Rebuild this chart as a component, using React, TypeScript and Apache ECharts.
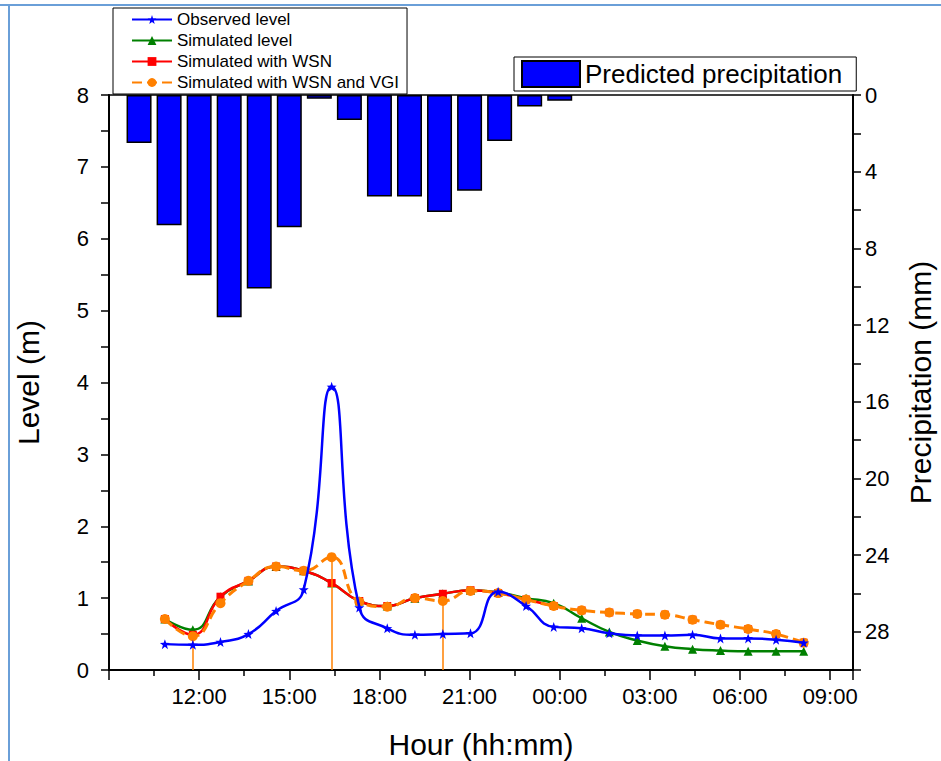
import React, { useEffect, useRef } from "react";
import * as echarts from "echarts";

// ---- data ----
const sampleHours = [10.86, 11.79, 12.71, 13.64, 14.56, 15.48, 16.41, 17.33, 18.26, 19.18, 20.11, 21.03, 21.95, 22.88, 23.80, 24.73, 25.65, 26.58, 27.50, 28.42, 29.35, 30.27, 31.20, 32.12];
const observedLevel = [0.36, 0.35, 0.39, 0.50, 0.82, 1.12, 3.94, 0.87, 0.58, 0.49, 0.50, 0.51, 1.09, 0.89, 0.60, 0.58, 0.51, 0.48, 0.48, 0.49, 0.44, 0.44, 0.42, 0.38];
const simulatedLevel = [0.71, 0.56, 1.02, 1.24, 1.44, 1.38, 1.21, 0.96, 0.89, 1.00, 1.06, 1.11, 1.08, 1.00, 0.93, 0.72, 0.53, 0.41, 0.33, 0.29, 0.27, 0.26, 0.26, 0.26];
const simulatedWSN = [0.71, 0.49, 1.02, 1.24, 1.44, 1.38, 1.21, 0.96, 0.89, 1.00, 1.06, 1.11, 1.07, 0.98, 0.89, 0.83, 0.80, 0.78, 0.77, 0.70, 0.63, 0.57, 0.50, 0.38];
const simulatedWSNVGI = [0.71, 0.47, 0.93, 1.24, 1.44, 1.38, 1.57, 0.95, 0.88, 1.00, 0.96, 1.10, 1.07, 0.98, 0.89, 0.83, 0.80, 0.78, 0.77, 0.70, 0.63, 0.57, 0.50, 0.38];
const wsnLineEnd = 14; // WSN line drawn up to this index, markers only afterwards
const dropIndices = [1, 6, 10];

const precipHours = [10, 11, 12, 13, 14, 15, 16, 17, 18, 19, 20, 21, 22, 23, 24];
const precipitation = [2.5, 6.8, 9.4, 11.6, 10.1, 6.9, 0.2, 1.3, 5.3, 5.3, 6.1, 5.0, 2.4, 0.6, 0.3];

const FONT = "Liberation Sans";
const STAR = "path://M0,-10 L2.35,-3.24 L9.51,-3.09 L3.8,1.24 L5.88,8.09 L0,4 L-5.88,8.09 L-3.8,1.24 L-9.51,-3.09 L-2.35,-3.24 Z";

const pairs = (ys: number[], from = 0, to = ys.length - 1) =>
  ys.slice(from, to + 1).map((y, i) => [sampleHours[from + i], y]);

export default function App() {
  const ref = useRef<HTMLDivElement>(null);
  useEffect(() => {
    if (!ref.current) return;
    const chart = echarts.init(ref.current, null, { renderer: "svg" });
    const hourLabel = (v: number) => {
      const h = Math.round(v) % 24;
      return (h < 10 ? "0" : "") + h + ":00";
    };
    chart.setOption({
      animation: false,
      backgroundColor: "#fff",
      textStyle: { fontFamily: FONT },
      graphic: [
        { type: "line", shape: { x1: 0, y1: 5, x2: 941, y2: 5 }, style: { stroke: "#6a9fd8", lineWidth: 2 } },
        { type: "line", shape: { x1: 9, y1: 5, x2: 9, y2: 761 }, style: { stroke: "#6a9fd8", lineWidth: 2 } },
      ],
      grid: {
        left: 109, right: 88, top: 95, bottom: 91,
        containLabel: false,
        outerBoundsMode: "none",
        show: true, borderColor: "#000", borderWidth: 1.5, backgroundColor: "transparent",
      },
      legend: [
        {
          data: ["Observed level", "Simulated level", "Simulated with WSN", "Simulated with WSN and VGI"],
          orient: "vertical",
          left: 113,
          top: 8,
          itemWidth: 40,
          itemHeight: 11,
          itemGap: 4,
          padding: [3, 8, 3, 18],
          borderColor: "#000",
          borderWidth: 1,
          backgroundColor: "#fff",
          textStyle: { fontSize: 17, color: "#000", fontFamily: FONT },
        },
        {
          data: [{ name: "Predicted precipitation", icon: "rect" }],
          left: 514,
          top: 57,
          itemWidth: 58,
          itemHeight: 26,
          padding: [3, 14, 3, 7],
          borderColor: "#000",
          borderWidth: 1,
          backgroundColor: "#fff",
          textStyle: { fontSize: 26, color: "#000", fontFamily: FONT },
        },
      ],
      xAxis: {
        type: "value",
        min: 9,
        max: 33.76,
        interval: 3,
        name: "Hour (hh:mm)",
        nameLocation: "middle",
        nameGap: 59,
        nameTextStyle: { fontSize: 30, color: "#000", fontFamily: FONT },
        axisLine: { lineStyle: { color: "#000", width: 2 } },
        axisTick: { length: 10, lineStyle: { color: "#000", width: 1.5 } },
        minorTick: { show: true, splitNumber: 2, length: 6, lineStyle: { color: "#000", width: 1.5 } },
        splitLine: { show: false },
        axisLabel: { showMinLabel: false, showMaxLabel: false, fontSize: 22, color: "#000", margin: 15, formatter: hourLabel },
      },
      yAxis: [
        {
          type: "value",
          min: 0,
          max: 8,
          interval: 0.5,
          name: "Level (m)",
          nameLocation: "middle",
          nameGap: 66,
          nameTextStyle: { fontSize: 30, color: "#000", fontFamily: FONT },
          axisLine: { show: true, lineStyle: { color: "#000", width: 2 } },
          axisTick: { show: true, length: 8, lineStyle: { color: "#000", width: 1.5 } },
          splitLine: { show: false },
          axisLabel: {
            fontSize: 22,
            color: "#000",
            margin: 20,
            formatter: (v: number) => (Number.isInteger(v) ? String(v) : ""),
          },
        },
        {
          type: "value",
          min: 0,
          max: 30,
          interval: 2,
          inverse: true,
          position: "right",
          name: "Precipitation (mm)",
          nameLocation: "middle",
          nameGap: 52,
          nameRotate: 90,
          nameTextStyle: { fontSize: 30, color: "#000", fontFamily: FONT },
          axisLine: { show: true, lineStyle: { color: "#000", width: 2 } },
          axisTick: { show: true, length: 8, lineStyle: { color: "#000", width: 1.5 } },
          splitLine: { show: false },
          axisLabel: {
            fontSize: 22,
            color: "#000",
            margin: 12,
            formatter: (v: number) => (v % 4 === 0 ? String(v) : ""),
          },
        },
      ],
      series: [
        {
          name: "Predicted precipitation",
          type: "bar",
          yAxisIndex: 1,
          barWidth: 25,
          data: precipHours.map((h, i) => [h, precipitation[i]]),
          itemStyle: { color: "#0000ff", borderColor: "#000", borderWidth: 1.5 },
          z: 1,
        },
        {
          name: "Simulated level",
          type: "line",
          smooth: true,
          data: pairs(simulatedLevel),
          symbol: "triangle",
          symbolSize: 9,
          lineStyle: { color: "#008000", width: 2.5 },
          itemStyle: { color: "#008000" },
          z: 3,
        },
        {
          name: "Simulated with WSN",
          type: "line",
          smooth: true,
          data: pairs(simulatedWSN, 0, wsnLineEnd),
          symbol: "rect",
          symbolSize: 8,
          lineStyle: { color: "#ff0000", width: 2.5 },
          itemStyle: { color: "#ff0000" },
          z: 4,
        },
        {
          name: "Simulated with WSN",
          type: "scatter",
          data: pairs(simulatedWSN, wsnLineEnd + 1),
          symbol: "rect",
          symbolSize: 8,
          itemStyle: { color: "#ff0000" },
          z: 4,
        },
        {
          name: "Simulated with WSN and VGI",
          type: "line",
          smooth: true,
          data: pairs(simulatedWSNVGI),
          symbol: "circle",
          symbolSize: 10,
          lineStyle: { color: "#ff8000", width: 3, type: [10, 5] },
          itemStyle: { color: "#ff8000" },
          z: 5,
          markLine: {
            silent: true,
            symbol: "none",
            label: { show: false },
            lineStyle: { color: "#ff8000", width: 1.5, type: "solid" },
            data: dropIndices.map((i) => [
              { coord: [sampleHours[i], simulatedWSNVGI[i]] },
              { coord: [sampleHours[i], 0] },
            ]),
          },
        },
        {
          name: "Observed level",
          type: "line",
          smooth: true,
          data: pairs(observedLevel),
          symbol: STAR,
          symbolSize: 10,
          lineStyle: { color: "#0000ff", width: 2.5 },
          itemStyle: { color: "#0000ff" },
          z: 6,
        },
      ],
    });
    return () => chart.dispose();
  }, []);
  return <div ref={ref} style={{ width: 941, height: 761, position: "absolute", left: 0, top: 0 }} />;
}
